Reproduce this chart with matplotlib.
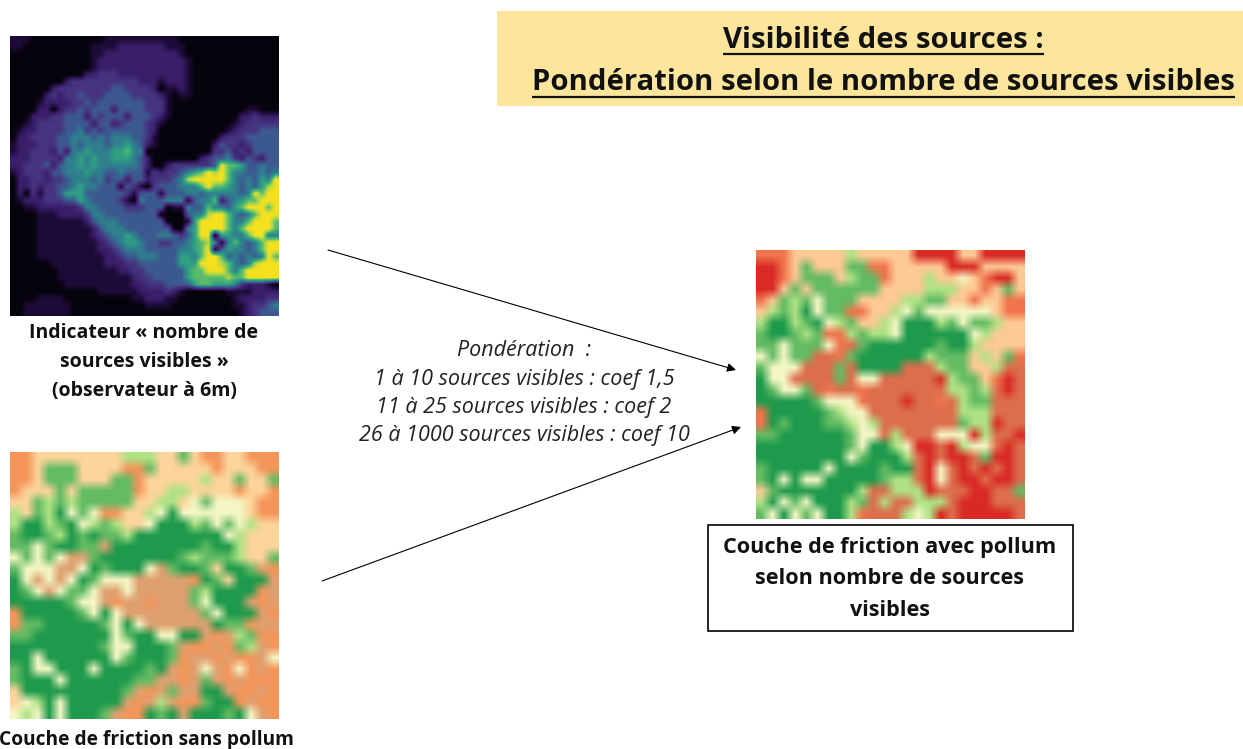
import numpy as np
import matplotlib
matplotlib.use("Agg")
import matplotlib.pyplot as plt
from matplotlib.colors import LinearSegmentedColormap

W, H = 1243, 749
TITLE_LINES = ["Visibilité des sources :", "Pondération selon le nombre de sources visibles"]
LABEL_TOP = ["Indicateur « nombre de", "sources visibles »", "(observateur à 6m)"]
LABEL_BOTTOM = ["Couche de friction sans pollum"]
LABEL_RESULT = ["Couche de friction avec pollum", "selon nombre de sources", "visibles"]
NOTE_LINES = ["Pondération  :", "1 à 10 sources visibles : coef 1,5",
              "11 à 25 sources visibles : coef 2", "26 à 1000 sources visibles : coef 10"]

VISIBLE_GRID = [
 "1110000000000011111111111000000000000000",
 "1100000000001111222222211100000000000000",
 "0000000000001122222222222100000000000000",
 "0000000000001222222222222210000000000000",
 "0000000000001222222222222210000000000000",
 "0000000000022333222222222210000000000000",
 "0000000023333333333222122210000000000000",
 "0000002333333334433332011210000000000000",
 "0000023233433344443333210110000000000000",
 "0000122223343444444433310000000000000000",
 "0000220233434442444433310000000000011000",
 "0002223344424344424443210000000000223222",
 "0012333344442442344432100000000001233333",
 "0122333344534344444432000000000012333444",
 "0223333445554545554431000000000233344444",
 "1222333445455545565421000000002433234444",
 "1223332425565556675500000000003342324444",
 "2223333255656556665420000000234453243244",
 "2233342455656555555420023333334977644544",
 "1233324455565544544413233456798975544545",
 "0223323345554534424423334589999975454659",
 "0223233445655444143103444555797765454689",
 "0203133466644444431444144455455555459799",
 "0122233344654444310544455514557245677999",
 "0011222222355444433344401154475546799979",
 "0000111222235544444444000045589975457999",
 "0000111111124555444444400016999975579997",
 "0000111111112455544444440056999975799997",
 "0000111111112345565444554346990665579955",
 "0000111111111234566544334456785157545799",
 "0000111111111223455544444556791465545799",
 "0000111111111122344555444665799745454597",
 "0000001111111122233444444666999875458999",
 "0000000111111111223344444467799975799999",
 "0000000111111111112334444467777787799999",
 "0000000011111111112233344446776665322210",
 "0000000000000111111222232100000011112222",
 "0000111100000000001122211000000001222233",
 "0011111110000000000011110000000001123345",
 "0011111110000000000000000000000000123444",
]
FRICTION_GRID = [
 "oocccccccclllccmcooccooo",
 "oocmmmccccoomcccccocccoo",
 "oocmmmcccmmoccccclccmccm",
 "occcmcmmmmmoccllccccocco",
 "ccmlmlmmmmmccllcwmwwwcoo",
 "lcmlgwmwoocclwgwwwwwwcoo",
 "lgglmgwlmlccwggglmwmwlcc",
 "mggmlgmgmmlggggggggwlccc",
 "mmwmggmmsggggggggmgglccc",
 "wmwmwssmgggggggmlmmmlccm",
 "mwwwsswgmgggwsmggmcggmso",
 "gwswswgmwwwsssssogmcgggs",
 "gmwswmmwsswsssssmlggggos",
 "gggggmwwsossosssmwgggsos",
 "ogggggmwgwsssssssmwgggso",
 "ommgggggmwgwssssssgmmoss",
 "mmgggggggwmggwwggsoslmoo",
 "ggggggggmwwgggmsoosomlso",
 "ggwggggggwmgggmossosoosw",
 "mgwwgggwggggmgsoswsowoso",
 "mgggwggggggmmssosmsosooo",
 "cgggggggggmsosmssggsooso",
 "cwlgwgggggsoslsoomggosoo",
 "wlwgwgggmsoogmgsgggmgwso",
]
POLLUM_GRID = [
 "oooccccclcccccRRRRccRRRR",
 "RRocmcccmmoocccccRRRcccc",
 "RRocmmmclmmoccclccwcoRRc",
 "RRcmcmmmmmmcccclllccocmc",
 "ocmlmwmmmccccllmmccoccoo",
 "clmlgwmmoocclwmwwwwwwcoo",
 "lgglmgwlmcclwggglmwmmlcc",
 "mggmlmoolmllwggggggwlccc",
 "mmwmmmwosmggggggmgglcccc",
 "wmwmmssomgggggglmmmclcmo",
 "mwwwsssmsggggssslmmcclss",
 "gwwssssmswwsssssRlmmcoRs",
 "gmwwmsossosssssssllmlsRs",
 "gggggmwwwosssRssoslmmsss",
 "ogggggmlwwsssssssslllsss",
 "ogmgggmmlwlsssssssmllRss",
 "mmggggggmwwslssswwwRlssR",
 "ggggggggmwgglwRRsRlwwsRs",
 "ggggggggwmggglsRsRRsmRRs",
 "mgggggwggggmggsRwsRsRsRs",
 "mgwgwwgggggmllsRwsRRsRRs",
 "cmggggggglsslllRsssRRssm",
 "lgwmwggglmslsslllsRRRsss",
 "mwgwmwgglossslwlRsRRRRRs",
]
LAND_COLOURS = {"c": "#fdd49a", "o": "#f4955a", "g": "#1f9a4c", "m": "#63bb63",
                "l": "#aee284", "w": "#f4f6c4", "s": "#dfa070", "R": "#d92a24"}
POLLUM_COLOURS = dict(LAND_COLOURS, s="#dc6e4c", o="#f0744c", c="#fdc994")


def to_rgb(grid, colours):
    return np.array([[matplotlib.colors.to_rgb(colours[k]) for k in row] for row in grid])


viridis_dark = LinearSegmentedColormap.from_list(
    "vd", ["#05030c", "#1e0c38", "#3a1f6c", "#46347f", "#3c5a90", "#2f7f8e",
           "#2fa083", "#58bb6c", "#b0d648", "#f5e01e"])

plt.rcParams["font.family"] = ["Open Sans", "DejaVu Sans"]
fig = plt.figure(figsize=(W / 100, H / 100), dpi=100, facecolor="white")
ax = fig.add_axes([0, 0, 1, 1])
ax.set_axis_off()

ax.add_patch(plt.Rectangle((497, 11), 746, 95, fc="#fde59c", ec="none"))
visible = np.array([[int(c) for c in r.ljust(40, "0")[:40]] for r in VISIBLE_GRID])
ax.imshow(visible, cmap=viridis_dark, vmin=0, vmax=9,
          extent=(10, 279, 316, 36), interpolation="bilinear", aspect="auto")
ax.imshow(to_rgb(FRICTION_GRID, LAND_COLOURS), extent=(10, 279, 719, 452),
          interpolation="bilinear", aspect="auto")
ax.imshow(to_rgb(POLLUM_GRID, POLLUM_COLOURS), extent=(756, 1025, 519, 250),
          interpolation="bilinear", aspect="auto")
ax.set_xlim(0, W)
ax.set_ylim(H, 0)

ax.add_patch(plt.Rectangle((708.5, 524.5), 365, 106, fc="white", ec="black", lw=1.2))
for (x0, y0, x1, y1) in [(328, 250, 736, 370), (322, 581, 741, 427)]:
    ax.annotate("", xy=(x1, y1), xytext=(x0, y0),
                arrowprops=dict(arrowstyle="-|>", color="black", lw=0.8, shrinkA=0, shrinkB=0,
                                mutation_scale=13))

renderer = fig.canvas.get_renderer()
for line, xc, y, yu in zip(TITLE_LINES, [883.5, 883.5], [40, 83], [53.5, 96.5]):
    t = ax.text(xc, y, line, ha="center", va="center", fontsize=21.05, fontweight="bold",
                color="#111111")
    bb = t.get_window_extent(renderer)
    ax.plot([bb.x0, bb.x1], [yu, yu], color="#111111", lw=1.6, solid_capstyle="butt")
for line, y in zip(LABEL_TOP, [333, 362, 391]):
    ax.text(144, y, line, ha="center", va="center", fontsize=14, fontweight="bold", color="#111111")
ax.text(146, 740, LABEL_BOTTOM[0], ha="center", va="center", fontsize=13.8, fontweight="bold",
        color="#111111")
for line, y in zip(LABEL_RESULT, [548, 579, 610]):
    ax.text(890, y, line, ha="center", va="center", fontsize=15.6, fontweight="bold", color="#111111")
for line, y in zip(NOTE_LINES, [351, 379, 407, 435]):
    ax.text(524, y, line, ha="center", va="center", fontsize=15.5, style="italic", color="#222222")
ax.set_xlim(0, W)
ax.set_ylim(H, 0)
fig.savefig("out.png", dpi=100)
